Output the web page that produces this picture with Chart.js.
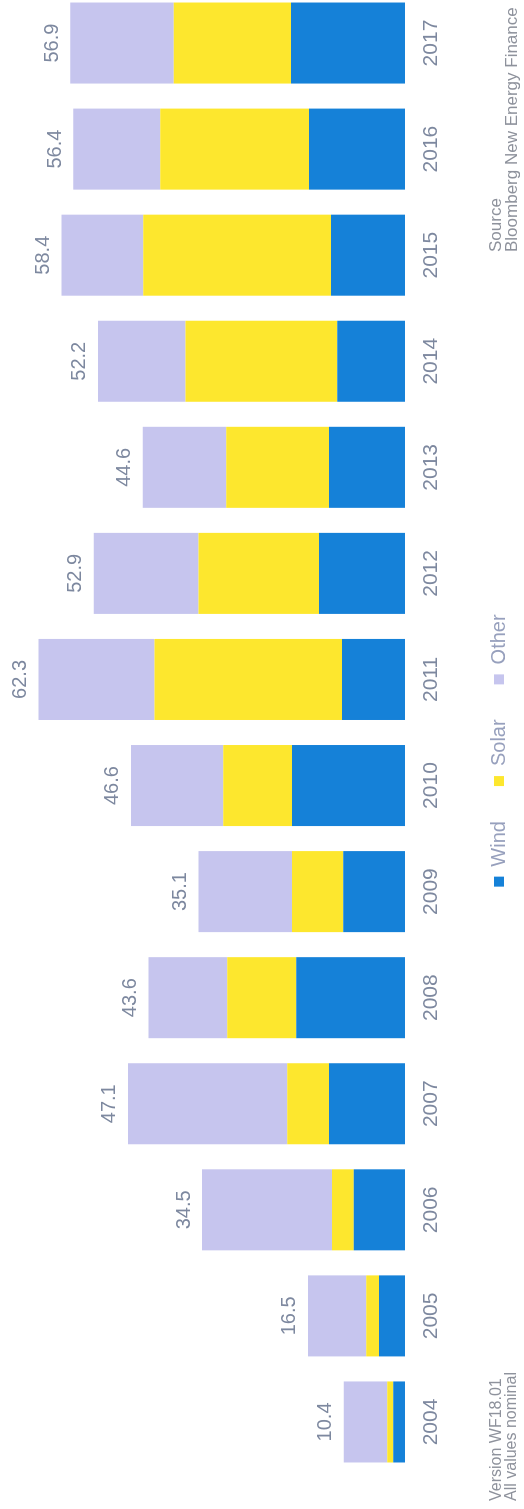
<!DOCTYPE html>
<html>
<head>
<meta charset="utf-8">
<script src="https://cdn.jsdelivr.net/npm/chart.js@4/dist/chart.umd.min.js"></script>
<style>
  html, body { margin: 0; padding: 0; overflow: hidden; background: #fff; width: 524px; height: 1509px; }
  #wrap {
    position: absolute; left: 0; top: 0;
    width: 1535px; height: 560px;
    transform-origin: 0 0;
    transform: translate(0, 1515px) rotate(-90deg);
  }
</style>
</head>
<body>
<div id="wrap"><canvas id="myChart" width="1535" height="560"></canvas></div>
<script>
const years = ['2004', '2005', '2006', '2007', '2008', '2009', '2010', '2011', '2012', '2013', '2014', '2015', '2016', '2017']
const wind  = [2.0, 4.4, 8.7, 12.9, 18.5, 10.5, 19.2, 10.7, 14.6, 12.9, 11.5, 12.6, 16.3, 19.4]
const solar = [1.0, 2.2, 3.7, 7.1, 11.7, 8.7, 11.7, 31.9, 20.5, 17.5, 25.8, 31.9, 25.3, 19.9]
const other = [7.4, 9.9, 22.1, 27.1, 13.4, 15.9, 15.7, 19.7, 17.8, 14.2, 14.9, 13.9, 14.8, 17.6]
// totals as printed on top of the bars
const totals = ['10.4', '16.5', '34.5', '47.1', '43.6', '35.1', '46.6', '62.3', '52.9', '44.6', '52.2', '58.4', '56.4', '56.9']

const textColor = '#7d889f'
const FONT = '"Liberation Sans", Arial, sans-serif'

// totals above each stack
const totalLabels = {
  id: 'totalLabels',
  afterDatasetsDraw(chart) {
    const ctx = chart.ctx
    const top = chart.getDatasetMeta(2).data
    ctx.save()
    ctx.font = '20px ' + FONT
    ctx.fillStyle = textColor
    ctx.textAlign = 'center'
    ctx.textBaseline = 'bottom'
    top.forEach((bar, i) => {
      ctx.fillText(totals[i], bar.x, bar.y - 8)
    })
    ctx.restore()
  }
}

// legend sits a bit left of the canvas centre
const shiftLegend = {
  id: 'shiftLegend',
  afterLayout(chart) {
    chart.legend.left -= 18
    chart.legend.right -= 18
  }
}

// footnotes
const notes = {
  id: 'notes',
  afterDraw(chart) {
    const ctx = chart.ctx
    ctx.save()
    ctx.fillStyle = '#8e929c'
    ctx.textAlign = 'left'
    ctx.textBaseline = 'middle'
    ctx.font = '16px ' + FONT
    ctx.fillText('Version WF18.01', 14, 497)
    ctx.fillText('All values nominal', 14, 512)
    ctx.font = '17px ' + FONT
    ctx.fillText('Source', 1263, 496)
    ctx.fillText('Bloomberg New Energy Finance', 1263, 512)
    ctx.restore()
  }
}

const ctx = document.getElementById('myChart').getContext('2d')

const myChart = new Chart(ctx, {
  type: 'bar',
  data: {
    labels: years,
    datasets: [
      { label: 'Wind', data: wind, backgroundColor: '#1581d8' },
      { label: 'Solar', data: solar, backgroundColor: '#fde72e' },
      { label: 'Other', data: other, backgroundColor: '#c6c5ee' }
    ]
  },
  options: {
    responsive: false,
    animation: false,
    layout: { padding: { left: 40, right: 10, top: 5, bottom: 41 } },
    datasets: {
      bar: { categoryPercentage: 1, barPercentage: 0.764, borderWidth: 0 }
    },
    scales: {
      x: {
        stacked: true,
        grid: { display: false, drawTicks: false },
        border: { display: false },
        ticks: { color: textColor, font: { family: FONT, size: 21 }, padding: 14, maxRotation: 0 },
        afterFit(scale) { scale.height = 49 }
      },
      y: {
        stacked: true,
        display: false,
        min: 0,
        max: 68
      }
    },
    plugins: {
      tooltip: { enabled: false },
      legend: {
        position: 'bottom',
        labels: {
          color: '#97a0bd',
          font: { family: FONT, size: 20 },
          boxWidth: 10,
          boxHeight: 10,
          padding: 35
        }
      }
    }
  },
  plugins: [totalLabels, shiftLegend, notes]
})
</script>
</body>
</html>
